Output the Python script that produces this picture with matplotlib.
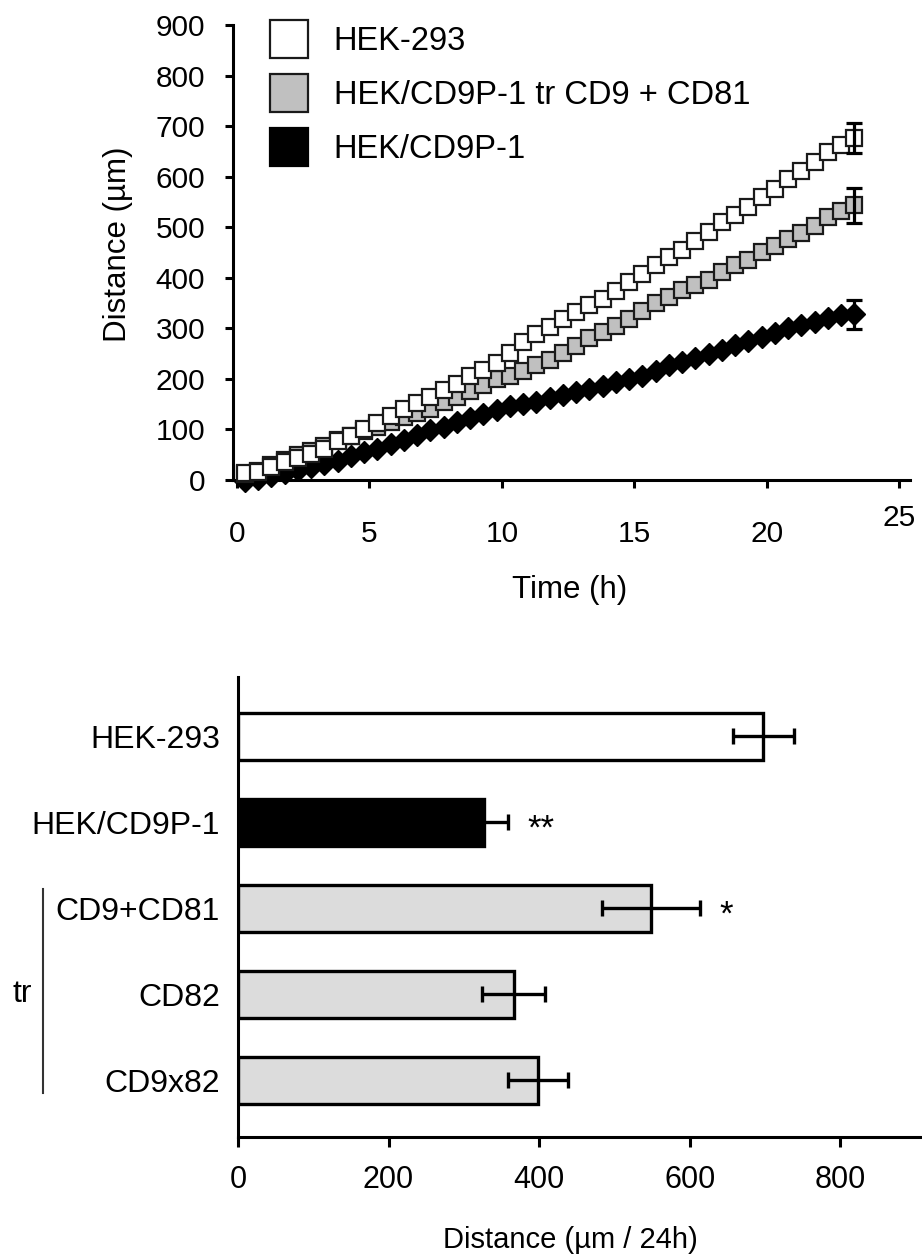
import matplotlib
matplotlib.use("Agg")
import matplotlib.pyplot as plt
from matplotlib.lines import Line2D
from matplotlib.transforms import ScaledTranslation

plt.rcParams['font.family'] = ['Liberation Sans', 'DejaVu Sans']

# ---------------- data: time course ----------------
time_h = [0.3, 0.8, 1.3, 1.8, 2.3, 2.8, 3.3, 3.8, 4.3, 4.8, 5.3, 5.8, 6.3, 6.8, 7.3, 7.8,
          8.3, 8.8, 9.3, 9.8, 10.3, 10.8, 11.3, 11.8, 12.3, 12.8, 13.3, 13.8, 14.3, 14.8,
          15.3, 15.8, 16.3, 16.8, 17.3, 17.8, 18.3, 18.8, 19.3, 19.8, 20.3, 20.8, 21.3,
          21.8, 22.3, 22.8, 23.3]
hek293 = [13, 16, 25, 35, 43, 52, 62, 77, 88, 100, 113, 126, 140, 152, 165, 179,
          190, 205, 218, 232, 252, 272, 288, 303, 318, 333, 347, 359, 373, 392,
          408, 425, 442, 455, 472, 490, 510, 525, 540, 560, 575, 595, 612,
          630, 648, 662, 676]
hek_tr = [12, 18, 30, 40, 49, 58, 68, 80, 88, 97, 105, 115, 125, 132, 140, 155,
          165, 176, 188, 200, 206, 216, 228, 238, 252, 265, 280, 292, 305, 318,
          335, 350, 362, 375, 386, 395, 412, 426, 436, 451, 463, 477, 489,
          503, 520, 533, 543]
hek_cd9p1 = [-2, 2, 8, 14, 20, 26, 31, 37, 47, 55, 62, 72, 80, 90, 98, 105,
             115, 122, 130, 138, 146, 150, 155, 162, 168, 175, 180, 186, 193, 200,
             206, 215, 228, 234, 242, 250, 258, 267, 275, 283, 290, 300, 307,
             313, 320, 326, 328]
end_err = [30, 35, 29]  # error at last time point: HEK-293, tr, CD9P-1
series_labels = ["HEK-293", "HEK/CD9P-1 tr CD9 + CD81", "HEK/CD9P-1"]
x_ticks_top = [0, 5, 10, 15, 20, 25]
y_ticks_top = [0, 100, 200, 300, 400, 500, 600, 700, 800, 900]

# ---------------- data: bars ----------------
bar_labels = ["HEK-293", "HEK/CD9P-1", "CD9+CD81", "CD82", "CD9x82"]
bar_values = [698, 327, 549, 366, 399]
bar_errors = [40, 32, 65, 42, 40]
bar_signif = ["", "**", "*", "", ""]
x_ticks_bot = [0, 200, 400, 600, 800]

W, H = 922, 1256
fig = plt.figure(figsize=(W / 100, H / 100), dpi=100)

def fx(px):
    return px / W

def fy(py):
    return 1 - py / H

TICK_FS = 21.5
LAB_FS = 22.5

# ---------------- top panel ----------------
ax1 = fig.add_axes([fx(233), fy(480), fx(910 - 233), (480 - 25) / H])
ax1.set_xlim(-0.15, 25.4)
ax1.set_ylim(0, 900)

ax1.plot(time_h, hek_cd9p1, ls='none', marker='D', ms=11.5, mfc='black', mec='black',
         mew=1.0, clip_on=False, zorder=3)
ax1.plot(time_h, hek_tr, ls='none', marker='s', ms=11.5, mfc='#c0c0c0', mec='#1a1a1a',
         mew=1.6, clip_on=False, zorder=4)
ax1.plot(time_h, hek293, ls='none', marker='s', ms=11.5, mfc='white', mec='#1a1a1a',
         mew=1.6, clip_on=False, zorder=5)
last = [hek293[-1], hek_tr[-1], hek_cd9p1[-1]]
ax1.errorbar([time_h[-1]] * 3, last, yerr=end_err, fmt='none', ecolor='black',
             elinewidth=2.3, capsize=5.5, capthick=2.3, clip_on=False, zorder=6)

for s in ['top', 'right']:
    ax1.spines[s].set_visible(False)
for s in ['left', 'bottom']:
    ax1.spines[s].set_linewidth(2.2)
ax1.set_xticks(x_ticks_top)
ax1.set_yticks(y_ticks_top)
ax1.tick_params(axis='both', direction='out', width=2.2, length=6, labelsize=TICK_FS)
ax1.tick_params(axis='y', pad=14)
ax1.tick_params(axis='x', pad=23)
ax1.set_ylabel("Distance (µm)", fontsize=LAB_FS)
ax1.yaxis.set_label_coords((118 - 233) / (910 - 233), (480 - 244) / (480 - 25))
ax1.yaxis.label.set_va('center')
ax1.set_xlabel("Time (h)", fontsize=LAB_FS)
ax1.xaxis.set_label_coords((570 - 233) / (910 - 233), -(590 - 480) / (480 - 25))
ax1.xaxis.label.set_va('center')
lab25 = ax1.get_xticklabels()[-1]
lab25.set_transform(lab25.get_transform() + ScaledTranslation(0, 16 / 100, fig.dpi_scale_trans))

handles = [
    Line2D([], [], ls='none', marker='s', ms=27.5, mfc='white', mec='#1a1a1a', mew=1.6),
    Line2D([], [], ls='none', marker='s', ms=27.5, mfc='#c0c0c0', mec='#1a1a1a', mew=1.6),
    Line2D([], [], ls='none', marker='s', ms=27.5, mfc='black', mec='black', mew=1.6),
]
fig.legend(handles, series_labels, loc='upper left',
           bbox_to_anchor=(fx(265), fy(26)), bbox_transform=fig.transFigure,
           frameon=False, fontsize=23.5, borderpad=0, borderaxespad=0,
           handlelength=1.5, handletextpad=0.6, labelspacing=0.71)

# ---------------- bottom panel ----------------
ax2 = fig.add_axes([fx(238), fy(1137), fx(920 - 238), (1137 - 677) / H])
ypos = list(range(len(bar_labels)))
fills = ['white', 'black', '#dcdcdc', '#dcdcdc', '#dcdcdc']
ax2.barh(ypos, bar_values, height=0.55, color=fills, edgecolor='black', linewidth=2.4,
         zorder=2)
ax2.errorbar(bar_values, ypos, xerr=bar_errors, fmt='none', ecolor='black',
             elinewidth=2.4, capsize=5.5, capthick=2.4, zorder=3)
for v, e, y, s in zip(bar_values, bar_errors, ypos, bar_signif):
    if s:
        ax2.text(v + e + 26, y + 0.08, s, fontsize=25, ha='left', va='center')
ax2.set_xlim(0, 906)
ax2.set_ylim(4.66, -0.69)
ax2.set_yticks(ypos)
ax2.set_yticklabels(bar_labels)
ax2.set_xticks(x_ticks_bot)
for s in ['top', 'right']:
    ax2.spines[s].set_visible(False)
for s in ['left', 'bottom']:
    ax2.spines[s].set_linewidth(2.2)
ax2.tick_params(axis='y', length=0, pad=13, labelsize=23)
ax2.tick_params(axis='x', direction='out', width=2.2, length=7, pad=13, labelsize=22)
ax2.set_xlabel("Distance (µm / 24h)", fontsize=21)
ax2.xaxis.set_label_coords((570 - 238) / (920 - 238), -(1240 - 1137) / (1137 - 677))
ax2.xaxis.label.set_va('center')

# "tr" bracket
ytr = ax2.get_yaxis_transform()
ax2.plot([(43 - 238) / 682] * 2, [1.77, 4.15], color='#333333', lw=1.5,
         transform=ytr, clip_on=False)
ax2.text((22 - 238) / 682, 3, "tr", fontsize=23, ha='center', va='center',
         transform=ytr)

fig.savefig("out.png", dpi=100)
